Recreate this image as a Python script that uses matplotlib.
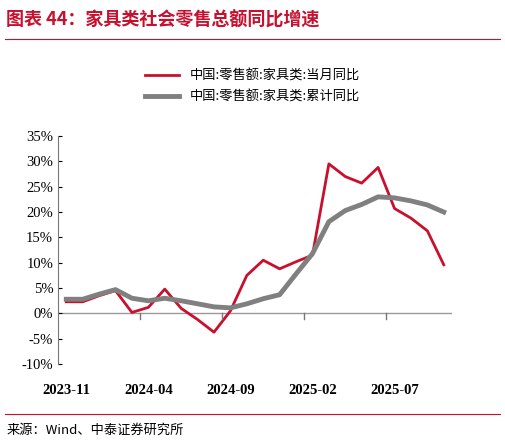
import matplotlib.pyplot as plt
from matplotlib.lines import Line2D

months = ['2023-11', '2023-12', '2024-01', '2024-02', '2024-03', '2024-04', '2024-05', '2024-06',
          '2024-07', '2024-08', '2024-09', '2024-10', '2024-11', '2024-12', '2025-01', '2025-02',
          '2025-03', '2025-04', '2025-05', '2025-06', '2025-07', '2025-08', '2025-09', '2025-10']
monthly_yoy = [2.3, 2.3, 3.5, 4.5, 0.2, 1.2, 4.8, 1.0, -1.2, -3.7, 0.5, 7.5,
               10.5, 8.8, 10.2, 11.5, 29.5, 27.0, 25.7, 28.8, 20.7, 18.8, 16.3, 9.6]
cumul_yoy = [2.8, 2.8, 3.8, 4.7, 3.0, 2.5, 3.0, 2.5, 1.9, 1.3, 1.1, 1.9,
             2.9, 3.7, 7.8, 11.8, 18.1, 20.3, 21.5, 23.0, 22.8, 22.2, 21.4, 20.0]
series_names = ['中国:零售额:家具类:当月同比', '中国:零售额:家具类:累计同比']
yticks = list(range(-10, 40, 5))

cjk = ['Noto Sans CJK SC', 'DejaVu Sans']
red = '#c8102e'
gray = '#808080'

fig = plt.figure(figsize=(5.05, 4.43), dpi=100)
ax = fig.add_axes([0.115, 0.178, 0.78, 0.515])

x = list(range(len(months)))
ax.plot(x, monthly_yoy, color=red, lw=2)
ax.plot(x, cumul_yoy, color=gray, lw=3.5)

ax.set_xlim(-0.5, len(months) - 0.5)
ax.set_ylim(-10, 35)
ax.set_yticks(yticks)
ax.set_yticklabels([f'{v}%' for v in yticks], family='Liberation Serif', fontsize=10.5)
lab_idx = x[::5]
ax.set_xticks(lab_idx)
ax.set_xticklabels([months[i] for i in lab_idx], family='Liberation Serif', fontsize=10.5, weight='bold')
ax.tick_params(axis='x', length=0, pad=14)
ax.tick_params(axis='y', length=3, direction='in')
for i in lab_idx[1:]:
    ax.plot([i - 0.5, i - 0.5], [0, -1], color='#777777', lw=1, clip_on=False)
ax.axhline(0, color='#999999', lw=1, zorder=0)
for s in ['top', 'right', 'bottom']:
    ax.spines[s].set_visible(False)
ax.spines['left'].set_color('#777777')

handles = [Line2D([], [], color=red, lw=2), Line2D([], [], color=gray, lw=3.5)]
fig.legend(handles, series_names, loc='center', bbox_to_anchor=(0.5, 0.805), frameon=False,
           prop={'family': cjk, 'size': 9.5}, handlelength=2.6, labelspacing=0.6)

fig.text(0.012, 0.955, '图表 44：家具类社会零售总额同比增速', color=red, fontsize=13,
         weight='bold', style='italic', family=cjk, va='center')
fig.add_artist(Line2D([0.01, 0.99], [0.912, 0.912], color=red, lw=0.8))
fig.add_artist(Line2D([0.01, 0.99], [0.066, 0.066], color=red, lw=0.8))
fig.text(0.012, 0.028, '来源：Wind、中泰证券研究所', fontsize=9.5, family=cjk, va='center')

fig.savefig('out.png', dpi=100)
